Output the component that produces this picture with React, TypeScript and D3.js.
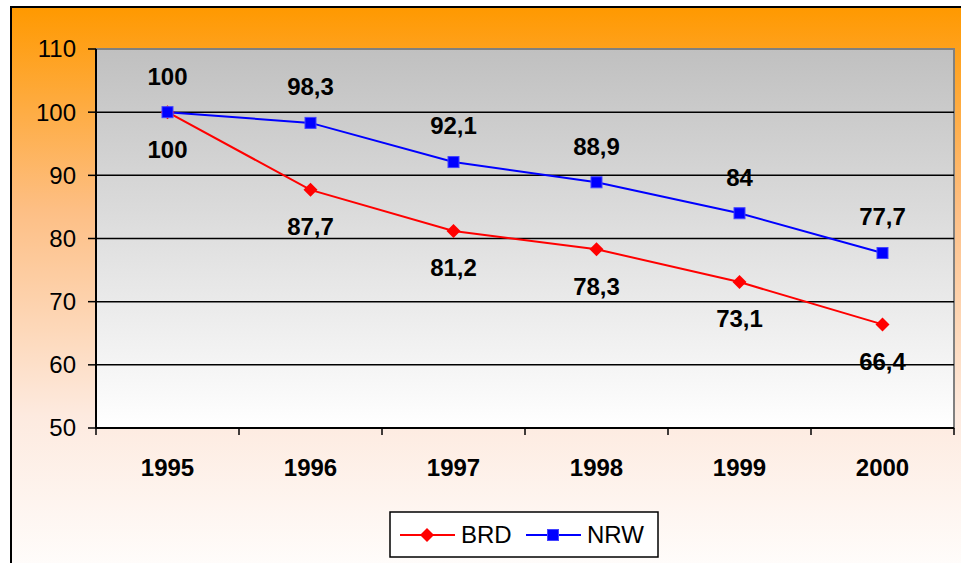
import React from "react";
import * as d3 from "d3";

const years = ["1995", "1996", "1997", "1998", "1999", "2000"];
const brd = [100, 87.7, 81.2, 78.3, 73.1, 66.4];
const nrw = [100, 98.3, 92.1, 88.9, 84, 77.7];
const yTicks = [50, 60, 70, 80, 90, 100, 110];

const W = 961;
const H = 563;
const PL = 96, PR = 954, PT = 49, PB = 428;
const FONT = "Arial, 'Liberation Sans', sans-serif";

const fmt = (v: number) => String(v).replace(".", ",");

export default function App() {
  const x = d3.scaleBand<string>().domain(years).range([PL, PR]);
  const y = d3.scaleLinear().domain([50, 110]).range([PB, PT]);
  const cx = (d: string) => (x(d) as number) + x.bandwidth() / 2;
  const line = d3
    .line<number>()
    .x((_, i) => cx(years[i]))
    .y((v) => y(v));

  const diamond = (px: number, py: number, r: number) =>
    `M${px},${py - r}L${px + r},${py}L${px},${py + r}L${px - r},${py}Z`;

  return (
    <svg
      width={W}
      height={H}
      style={{ position: "absolute", left: 0, top: 0, display: "block" }}
    >
      <defs>
        <linearGradient id="bg" x1="0" y1="0" x2="0" y2="1">
          <stop offset="0" stopColor="#FF9900" />
          <stop offset="0.35" stopColor="#FDBF85" />
          <stop offset="0.7" stopColor="#FDEADF" />
          <stop offset="1" stopColor="#FFFFFF" />
        </linearGradient>
        <linearGradient id="plotbg" x1="0" y1="0" x2="0" y2="1">
          <stop offset="0" stopColor="#C0C0C0" />
          <stop offset="1" stopColor="#FFFFFF" />
        </linearGradient>
      </defs>
      <rect x={0} y={0} width={W} height={H} fill="#FFFFFF" />
      <rect
        x={11}
        y={7}
        width={W + 20}
        height={H + 20}
        fill="url(#bg)"
        stroke="#000"
        strokeWidth={2}
      />
      <rect
        x={PL}
        y={PT}
        width={PR - PL}
        height={PB - PT}
        fill="url(#plotbg)"
        stroke="#808080"
        strokeWidth={2}
      />
      {yTicks.map((t) => (
        <g key={t}>
          {t !== 50 && t !== 110 && (
            <line x1={PL} x2={PR} y1={y(t)} y2={y(t)} stroke="#000" strokeWidth={1.5} />
          )}
          <line x1={PL - 8} x2={PL} y1={y(t)} y2={y(t)} stroke="#000" strokeWidth={1.5} />
          <text
            x={76}
            y={y(t)}
            dy="0.35em"
            textAnchor="end"
            fontFamily={FONT}
            fontSize={24}
            fill="#000"
          >
            {t}
          </text>
        </g>
      ))}
      <line x1={PL} x2={PL} y1={PT} y2={PB} stroke="#000" strokeWidth={2} />
      <line x1={PL} x2={PR} y1={PB} y2={PB} stroke="#000" strokeWidth={2} />
      {years.map((yr) => (
        <line
          key={"t" + yr}
          x1={x(yr) as number}
          x2={x(yr) as number}
          y1={PB}
          y2={PB + 7}
          stroke="#000"
          strokeWidth={1.5}
        />
      ))}
      <line x1={PR} x2={PR} y1={PB} y2={PB + 7} stroke="#000" strokeWidth={1.5} />
      {years.map((yr) => (
        <text
          key={"l" + yr}
          x={cx(yr)}
          y={468}
          dy="0.35em"
          textAnchor="middle"
          fontFamily={FONT}
          fontWeight="bold"
          fontSize={24}
        >
          {yr}
        </text>
      ))}

      <path d={line(brd) || ""} fill="none" stroke="#FF0000" strokeWidth={2} />
      <path d={line(nrw) || ""} fill="none" stroke="#0000FF" strokeWidth={2} />
      {brd.map((v, i) => (
        <path key={"bd" + i} d={diamond(cx(years[i]), y(v), 7)} fill="#FF0000" />
      ))}
      {nrw.map((v, i) => (
        <rect
          key={"nr" + i}
          x={cx(years[i]) - 5.5}
          y={y(v) - 5.5}
          width={11}
          height={11}
          fill="#0000FF"
          stroke="#4444FF"
          strokeWidth={1}
        />
      ))}
      {brd.map((v, i) => (
        <text
          key={"bl" + i}
          x={cx(years[i])}
          y={y(v) + 37}
          dy="0.35em"
          textAnchor="middle"
          fontFamily={FONT}
          fontWeight="bold"
          fontSize={24}
        >
          {fmt(v)}
        </text>
      ))}
      {nrw.map((v, i) => (
        <text
          key={"nl" + i}
          x={cx(years[i])}
          y={y(v) - 36}
          dy="0.35em"
          textAnchor="middle"
          fontFamily={FONT}
          fontWeight="bold"
          fontSize={24}
        >
          {fmt(v)}
        </text>
      ))}

      <g>
        <rect x={390} y={512} width={268} height={45} fill="#FFFFFF" stroke="#000" strokeWidth={1.5} />
        <line x1={400} x2={455} y1={535} y2={535} stroke="#FF0000" strokeWidth={2} />
        <path d={diamond(427, 535, 7)} fill="#FF0000" />
        <text x={461} y={535} dy="0.35em" fontFamily={FONT} fontSize={24}>
          BRD
        </text>
        <line x1={526} x2={581} y1={535} y2={535} stroke="#0000FF" strokeWidth={2} />
        <rect x={547.5} y={529.5} width={11} height={11} fill="#0000FF" stroke="#4444FF" />
        <text x={587} y={535} dy="0.35em" fontFamily={FONT} fontSize={24}>
          NRW
        </text>
      </g>
    </svg>
  );
}
